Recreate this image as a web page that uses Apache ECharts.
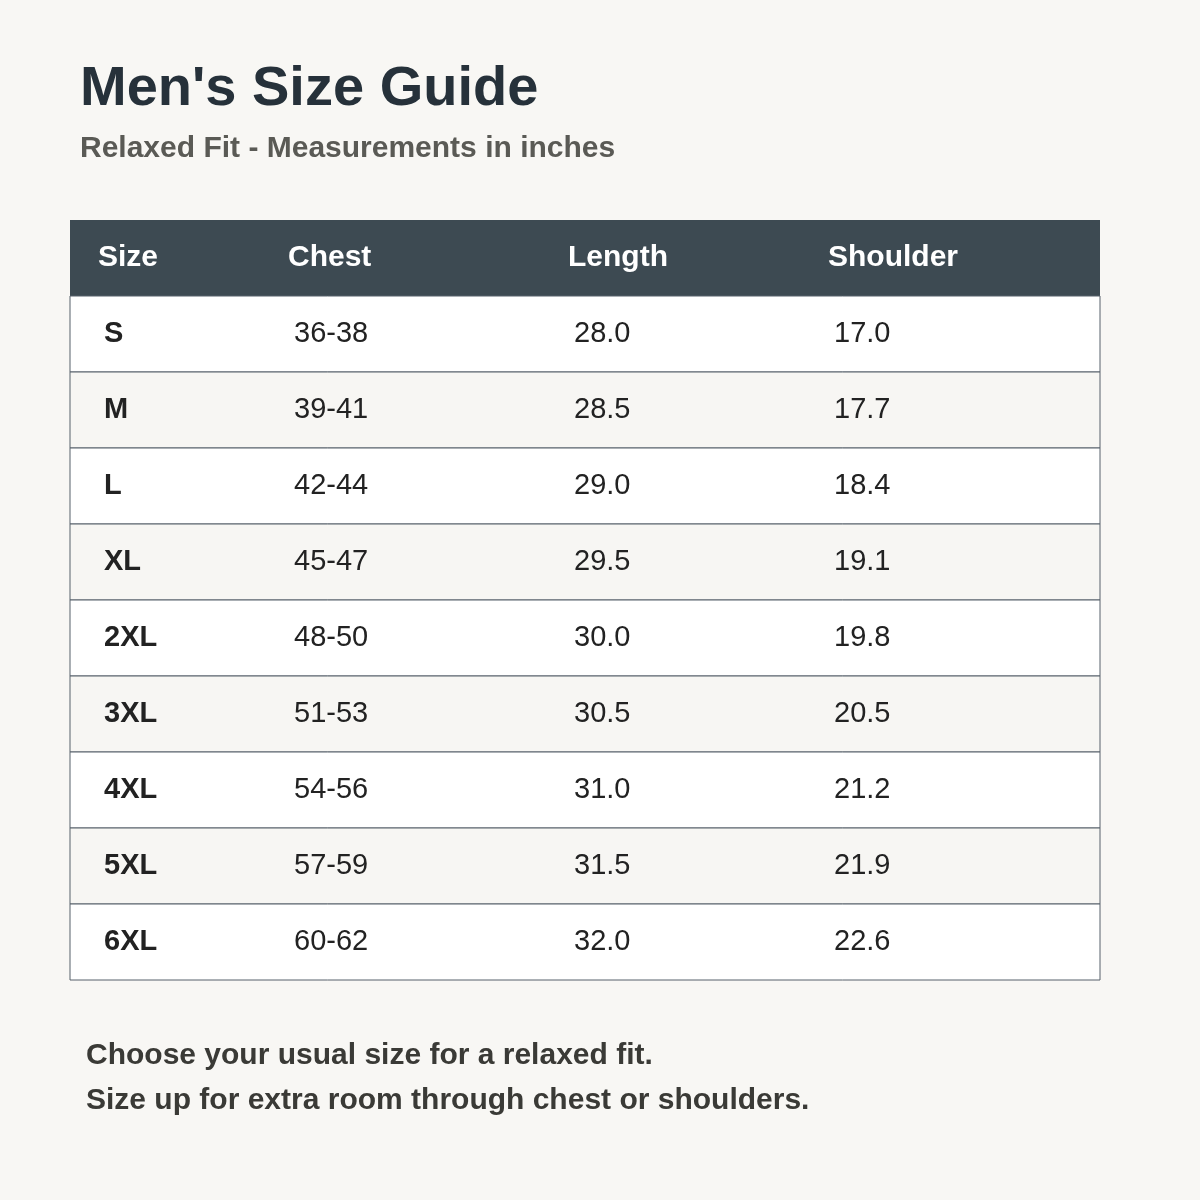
<!DOCTYPE html>
<html><head><meta charset="utf-8">
<script src="https://cdn.jsdelivr.net/npm/echarts@6/dist/echarts.min.js"></script>
<style>html,body{margin:0;background:#f8f7f4}#c{width:1200px;height:1200px}</style>
</head><body><div id="c"></div>
<script>
const headers = ['Size','Chest','Length','Shoulder'];
const sizes = ['S','M','L','XL','2XL','3XL','4XL','5XL','6XL'];
const chest = ['36-38','39-41','42-44','45-47','48-50','51-53','54-56','57-59','60-62'];
const lengths = ['28.0','28.5','29.0','29.5','30.0','30.5','31.0','31.5','32.0'];
const shoulder = ['17.0','17.7','18.4','19.1','19.8','20.5','21.2','21.9','22.6'];
const colX = [34, 224, 504, 764];
const headX = [28, 218, 498, 758];
const FONT = '"Liberation Sans", Arial, sans-serif';
const chart = echarts.init(document.getElementById('c'));
chart.setOption({
  backgroundColor:'#f8f7f4',
  animation:false,
  grid:{left:70,right:100,top:296,height:684},
  xAxis:{type:'value',min:0,max:1030,show:false},
  yAxis:{type:'category',data:sizes,inverse:true,show:false},
  graphic:[
    {type:'text',left:80,top:62,style:{text:"Men's Size Guide",font:'bold 56px '+FONT,fill:'#26313a'}},
    {type:'text',left:80,top:134,style:{text:'Relaxed Fit - Measurements in inches',font:'bold 30px '+FONT,fill:'#5a5a55'}},
    {type:'rect',shape:{x:70,y:220,width:1030,height:76},style:{fill:'#3d4a52'}},
    ...headers.map((h,i)=>({type:'text',x:70+headX[i],y:258,style:{text:h,font:'bold 30px '+FONT,fill:'#ffffff',verticalAlign:'middle'}})),
    {type:'text',left:86,top:1033,style:{text:'Choose your usual size for a relaxed fit.\nSize up for extra room through chest or shoulders.',font:'bold 30px '+FONT,fill:'#3a3a36',lineHeight:45}}
  ],
  series:[{
    type:'custom',
    coordinateSystem:'cartesian2d',
    encode:{x:0,y:1},
    data:sizes.map((s,i)=>[0,i]),
    renderItem:(params,api)=>{
      const i=api.value(1);
      const p=api.coord([0,i]);
      const p2=api.coord([1030,i]);
      const h=api.size([0,1])[1];
      const top=p[1]-h/2;
      const vals=[sizes[i],chest[i],lengths[i],shoulder[i]];
      const children=[{type:'rect',shape:{x:p[0],y:top,width:p2[0]-p[0],height:h},
        style:{fill:i%2?'#f7f6f3':'#ffffff',stroke:'#56616a',lineWidth:1}}];
      vals.forEach((v,k)=>{
        const x=api.coord([colX[k],i])[0];
        children.push({type:'text',x:x,y:p[1],style:{text:v,font:(k===0?'bold ':'')+'29px '+FONT,fill:'#222222',verticalAlign:'middle'}});
      });
      return {type:'group',children};
    }
  }]
});
</script></body></html>
